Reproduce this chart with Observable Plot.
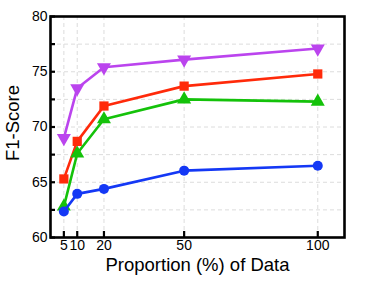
<!DOCTYPE html>
<html>
<head>
<meta charset="utf-8">
<script src="https://cdn.jsdelivr.net/npm/d3@7"></script>
<script src="https://cdn.jsdelivr.net/npm/@observablehq/plot@0.6"></script>
<style>
  html, body { margin: 0; padding: 0; background: #fff; }
  svg { font-family: Arial, "Liberation Sans", sans-serif; }
</style>
</head>
<body>
<div id="chart"></div>
<script>
const proportions = [5, 10, 20, 50, 100];
const seriesNames = ["purple", "red", "green", "blue"];
const purpleVals = [69.0, 73.5, 75.4, 76.1, 77.1];
const redVals = [65.3, 68.7, 71.9, 73.7, 74.8];
const greenVals = [62.8, 67.6, 70.7, 72.5, 72.3];
const blueVals = [62.35, 63.95, 64.4, 66.05, 66.5];
const yTickLabels = [60, 65, 70, 75, 80];
const yMinorTicks = [60, 62.5, 65, 67.5, 70, 72.5, 75, 77.5, 80];
const yGrid = [62.5, 65, 67.5, 70, 72.5, 75, 77.5];

const colors = {purple: "#bb44ee", red: "#ff2a0a", green: "#14c20a", blue: "#1438f5"};

const triangleDown = {
  draw(context, size) {
    const s = Math.sqrt(size / (Math.sqrt(3) / 4));
    const h = s * Math.sqrt(3) / 2;
    context.moveTo(0, h * 2 / 3);
    context.lineTo(s / 2, -h / 3);
    context.lineTo(-s / 2, -h / 3);
    context.closePath();
  }
};
const triangleUp = {
  draw(context, size) {
    const s = Math.sqrt(size / (Math.sqrt(3) / 4));
    const h = s * Math.sqrt(3) / 2;
    context.moveTo(0, -h * 2 / 3);
    context.lineTo(s / 2, h / 3);
    context.lineTo(-s / 2, h / 3);
    context.closePath();
  }
};
const symbols = {purple: triangleDown, red: d3.symbolSquare, green: triangleUp, blue: d3.symbolCircle};
const radii = {purple: 5.2, red: 5.2, green: 5.2, blue: 5.0};

const valueMap = {purple: purpleVals, red: redVals, green: greenVals, blue: blueVals};

const marks = [
  Plot.ruleX(proportions, {x: d => d, stroke: "#dcdcdc", strokeDasharray: "4,3", strokeWidth: 1}),
  Plot.ruleY(yGrid, {y: d => d, stroke: "#dcdcdc", strokeDasharray: "4,3", strokeWidth: 1}),
];
for (const name of seriesNames) {
  const data = proportions.map((p, i) => ({x: p, y: valueMap[name][i]}));
  marks.push(Plot.line(data, {x: "x", y: "y", stroke: colors[name], strokeWidth: 2.6}));
  marks.push(Plot.dot(data, {x: "x", y: "y", fill: colors[name], stroke: "none", symbol: symbols[name], r: radii[name]}));
}
marks.push(
  Plot.frame({stroke: "#000", strokeWidth: 2.6}),
  Plot.axisY({ticks: yMinorTicks, tickSize: -5, strokeWidth: 2.2, tickFormat: () => "", label: null}),
  Plot.axisY({ticks: yTickLabels, tickSize: 0, tickPadding: 3, fontSize: 14, fill: "#000", label: null}),
  Plot.axisX({ticks: proportions, tickSize: -6, strokeWidth: 2.2, tickFormat: () => "", label: null}),
  Plot.axisX({ticks: proportions, tickSize: 0, tickPadding: 3, fontSize: 14, fill: "#000", label: null}),
  Plot.text(["Proportion (%) of Data"], {frameAnchor: "bottom", lineAnchor: "middle", textAnchor: "middle", dy: 28, fontSize: 18.5, fill: "#000", text: d => d}),
  Plot.text(["F1-Score"], {frameAnchor: "left", lineAnchor: "middle", textAnchor: "middle", dx: -37, dy: -4, rotate: -90, fontSize: 18.5, fill: "#000", text: d => d})
);

const chart = Plot.plot({
  width: 381,
  height: 284,
  marginLeft: 50,
  marginRight: 37,
  marginTop: 16,
  marginBottom: 47,
  x: {domain: [0, 110]},
  y: {domain: [60, 80]},
  style: {fontFamily: 'Arial, "Liberation Sans", sans-serif', background: "#fff"},
  marks
});
document.getElementById("chart").appendChild(chart);
</script>
</body>
</html>
